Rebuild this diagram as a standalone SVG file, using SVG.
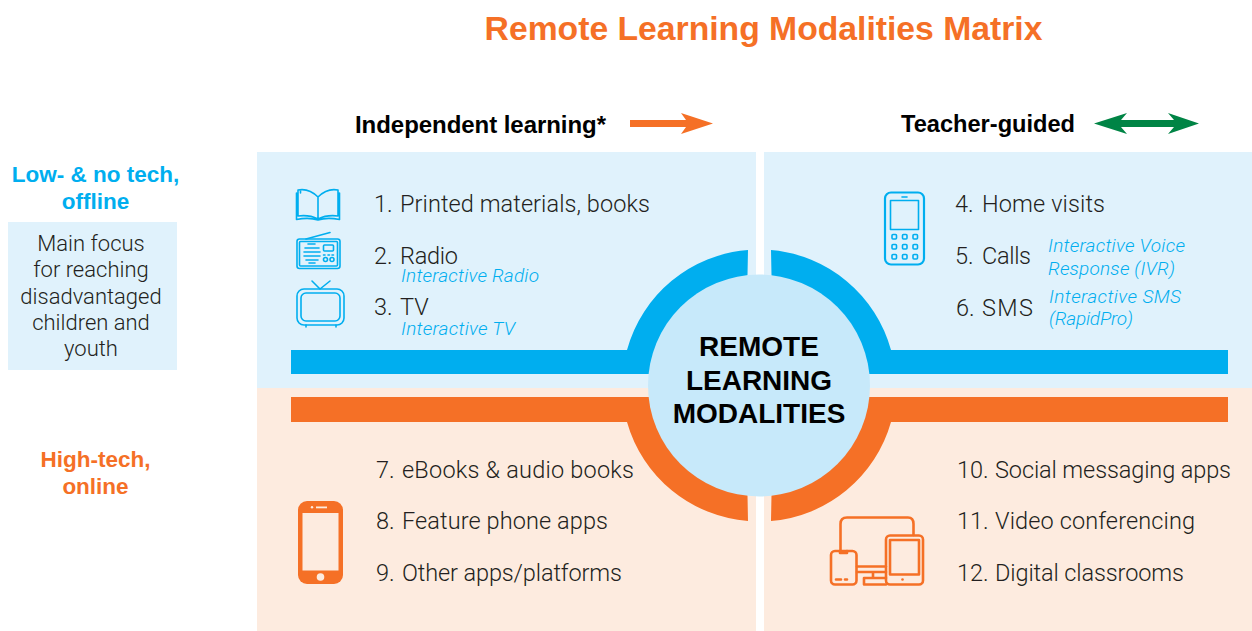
<svg xmlns="http://www.w3.org/2000/svg" width="1252" height="631" viewBox="0 0 1252 631">
<style>
.t{font-size:23.500px;fill:#231f20;font-family:"Roboto","Liberation Sans",sans-serif;font-weight:300}
.i{font-size:19px;fill:#00aeef;font-style:italic;font-family:"Roboto","Liberation Sans",sans-serif;font-weight:300}
.h{font-size:24px;font-weight:700;fill:#000;font-family:"Liberation Sans",sans-serif}
.s{font-size:22.500px;font-weight:700;text-anchor:middle;font-family:"Liberation Sans",sans-serif}
.f{font-size:22px;text-anchor:middle;fill:#231f20;font-family:"Roboto","Liberation Sans",sans-serif;font-weight:300}
.c{font-size:28px;font-weight:700;text-anchor:middle;fill:#000;font-family:"Liberation Sans",sans-serif}
.b{fill:none;stroke:#00aeef;stroke-width:1.600;stroke-linejoin:round;stroke-linecap:round}
.o{fill:none;stroke:#f57026;stroke-width:2.600;stroke-linejoin:round;stroke-linecap:round}
</style>
<rect width="1252" height="631" fill="#fff"/>
<text x="763.500" y="40" font-size="33.700" font-weight="700" fill="#f57026" text-anchor="middle" style="font-family:'Liberation Sans',sans-serif">Remote Learning Modalities Matrix</text>

<g id="panels">
<rect x="257" y="152" width="499" height="236" fill="#e0f2fc"/>
<rect x="764" y="152" width="488" height="236" fill="#e0f2fc"/>
<rect x="257" y="388" width="499" height="243" fill="#fdebdf"/>
<rect x="764" y="388" width="488" height="243" fill="#fdebdf"/>
</g>

<g id="header-independent">
<text class="h" x="355" y="132.500" textLength="251">Independent learning*</text>
</g>
<g id="header-teacher">
<text class="h" x="901" y="131.500" textLength="174" lengthAdjust="spacingAndGlyphs">Teacher-guided</text>
</g>

<g id="connectors">
<path d="M630 120H686L681 113 713 123.500 681 134 686 127H630Z" fill="#f57026"/>
<path d="M1094 123.500 1127 113 1121 120H1174L1168 113 1199 123.500 1168 134 1174 127H1121L1127 134Z" fill="#008445"/>
<path d="M291 350H627A136.500 136.500 0 0 1 748 250L747 300V374H291Z" fill="#00aeef"/>
<path d="M1228 350H891A136.500 136.500 0 0 0 771 250L772 300V374H1228Z" fill="#00aeef"/>
<path d="M291 422H627A136.500 136.500 0 0 0 748 521L747 470V397H291Z" fill="#f57026"/>
<path d="M1228 422H891A136.500 136.500 0 0 1 771 521L772 470V397H1228Z" fill="#f57026"/>
</g>

<g id="hub">
<circle cx="759" cy="385.500" r="111" fill="#c7e9fa"/>
<text class="c" x="759" y="356">REMOTE</text>
<text class="c" x="759" y="390">LEARNING</text>
<text class="c" x="759" y="423">MODALITIES</text>
</g>

<g id="row-low">
<text class="s" x="95.500" y="182" fill="#00aeef">Low- &amp; no tech,</text>
<text class="s" x="95.500" y="209" fill="#00aeef">offline</text>
</g>
<g id="focus-box">
<rect x="8" y="222" width="169" height="148" fill="#e0f2fc"/>
<text class="f" x="91" y="251">Main focus</text>
<text class="f" x="91" y="277">for reaching</text>
<text class="f" x="91" y="304">disadvantaged</text>
<text class="f" x="91" y="330">children and</text>
<text class="f" x="91" y="356">youth</text>
</g>
<g id="row-high">
<text class="s" x="95.500" y="467" fill="#f57026">High-tech,</text>
<text class="s" x="95.500" y="494" fill="#f57026">online</text>
</g>

<g id="item-1">
<path class="b" d="M318 197C311 190 303 189 298 190V216C305 215 312 216 318 219C324 216 331 215 338 216V190C333 189 325 190 318 197V219M300.500 190V193M296.500 193V219.500C304 218 312 218 318 220C324 218 332 218 339.500 219.500V193"/>
<text class="t" x="374" y="212">1.<tspan x="400" textLength="250">Printed materials, books</tspan></text>
</g>
<g id="item-2">
<path class="b" d="M306 239 330 232.500"/>
<rect class="b" x="297" y="239" width="43" height="29.500" rx="2.500"/>
<rect class="b" x="299.500" y="241.500" width="38" height="24.500" rx="1"/>
<path class="b" d="M308 244H315M305 248H319M304 252H320M304 256H320M306 260H318M309 263H315"/>
<rect class="b" x="323.500" y="245" width="10" height="6" rx="1"/>
<path class="b" d="M323.500 255H325M328 255H329.500M332 255H333.500"/>
<circle class="b" cx="325.500" cy="259.500" r="2"/>
<circle class="b" cx="332" cy="259.500" r="2"/>
<text class="t" x="374" y="264">2.<tspan x="400" textLength="58">Radio</tspan></text>
<text class="i" x="401" y="282" textLength="138">Interactive Radio</text>
</g>
<g id="item-3">
<path class="b" d="M312 281 320 289 330 281"/>
<rect class="b" x="297" y="289" width="47" height="36" rx="7"/>
<rect class="b" x="301" y="293" width="39" height="28" rx="5"/>
<path class="b" d="M306 325V327M336 325V327"/>
<text class="t" x="374" y="315">3.<tspan x="400">TV</tspan></text>
<text class="i" x="401" y="335" textLength="114">Interactive TV</text>
</g>
<g id="item-4">
<rect x="885" y="192.500" width="39" height="72" rx="6" fill="none" stroke="#00aeef" stroke-width="2.200"/>
<rect class="b" x="890.500" y="200.500" width="28" height="29"/>
<path class="b" d="M902 197H907"/>
<g fill="none" stroke="#00aeef" stroke-width="1.600">
<rect x="892" y="234.500" width="4.500" height="4.500" rx="1"/><rect x="902.500" y="234.500" width="4.500" height="4.500" rx="1"/><rect x="913" y="234.500" width="4.500" height="4.500" rx="1"/>
<rect x="892" y="244.500" width="4.500" height="4.500" rx="1"/><rect x="902.500" y="244.500" width="4.500" height="4.500" rx="1"/><rect x="913" y="244.500" width="4.500" height="4.500" rx="1"/>
<rect x="892" y="254.500" width="4.500" height="4.500" rx="1"/><rect x="902.500" y="254.500" width="4.500" height="4.500" rx="1"/><rect x="913" y="254.500" width="4.500" height="4.500" rx="1"/>
</g>
<text class="t" x="955" y="212">4.<tspan x="982" textLength="123">Home visits</tspan></text>
</g>
<g id="item-5">
<text class="t" x="955" y="264">5.<tspan x="982" textLength="49">Calls</tspan></text>
<text class="i" x="1048" y="252" textLength="137">Interactive Voice</text>
<text class="i" x="1048" y="275" textLength="127">Response (IVR)</text>
</g>
<g id="item-6">
<text class="t" x="956" y="316">6.<tspan x="982" textLength="51">SMS</tspan></text>
<text class="i" x="1049" y="302.500" textLength="132">Interactive SMS</text>
<text class="i" x="1049" y="325" textLength="84">(RapidPro)</text>
</g>
<g id="item-7"><text class="t" x="376" y="478">7.<tspan x="402" textLength="232">eBooks &amp; audio books</tspan></text></g>
<g id="item-8">
<rect x="298" y="501" width="45" height="83" rx="9" fill="#f57026"/>
<rect x="302.500" y="513" width="36" height="57.500" fill="#fdebdf"/>
<circle cx="320.500" cy="577" r="3.800" fill="#fdebdf"/>
<rect x="316" y="506.500" width="11" height="1.800" fill="#fdebdf"/>
<circle cx="312" cy="507.300" r="1.200" fill="#fdebdf"/>
<text class="t" x="376" y="529">8.<tspan x="402" textLength="206">Feature phone apps</tspan></text>
</g>
<g id="item-9"><text class="t" x="376" y="581">9.<tspan x="402" textLength="220">Other apps/platforms</tspan></text></g>
<g id="item-10"><text class="t" x="957" y="478">10.<tspan x="995" textLength="236">Social messaging apps</tspan></text></g>
<g id="item-11">
<path class="o" d="M840.500 550V524Q840.500 517.500 847 517.500H908Q913.500 517.500 913.500 524V535"/>
<rect class="o" x="831" y="551" width="25.500" height="33.500" rx="4"/>
<path class="o" d="M840 551V553H847V551M836 579.500H841M845 579.500H847"/>
<rect class="o" x="886" y="535.500" width="37" height="49" rx="4"/>
<rect class="o" x="890" y="540" width="29" height="34.500" fill="#fbd8c1"/>
<circle cx="902.500" cy="579.500" r="1.300" fill="#f57026"/>
<path class="o" d="M857 566.500H886M857 572H886M873 572V578M864 578H886M864 578V584.500H886"/>
<text class="t" x="957" y="529">11.<tspan x="995" textLength="200">Video conferencing</tspan></text>
</g>
<g id="item-12"><text class="t" x="957" y="581">12.<tspan x="995" textLength="189">Digital classrooms</tspan></text></g>
</svg>
